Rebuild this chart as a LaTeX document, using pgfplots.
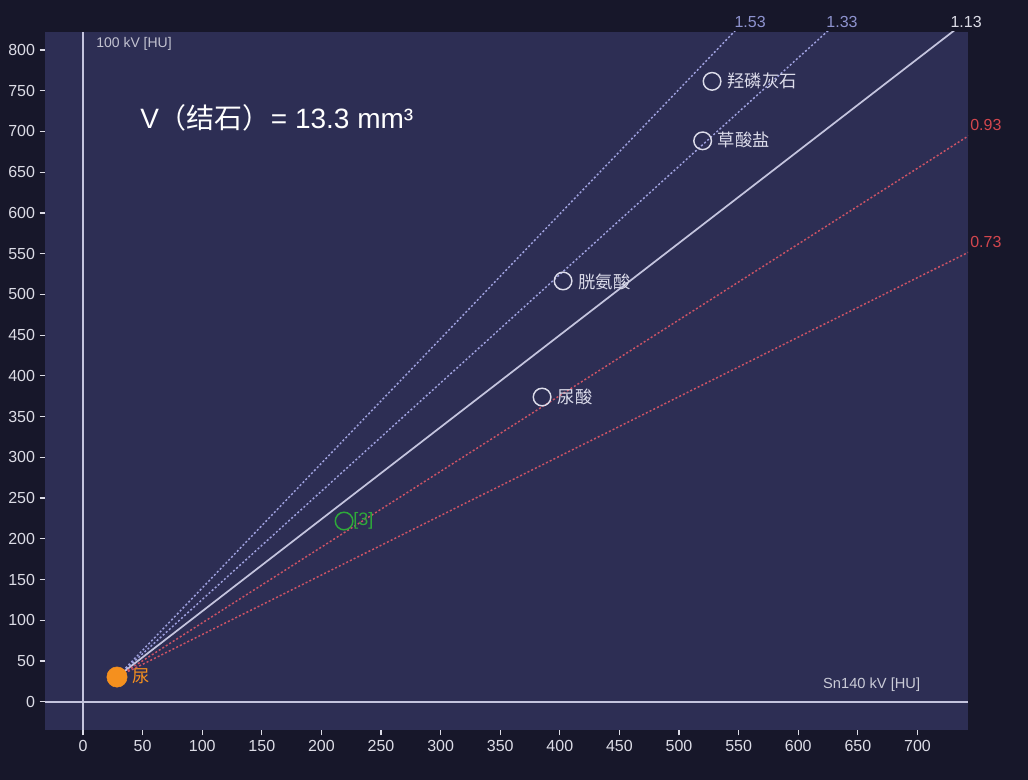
\documentclass[border=0pt]{standalone}
\usepackage{fontspec}
\setmainfont{Liberation Sans}
\newfontfamily\cjk{Noto Sans CJK SC}
\usepackage{pgfplots}
\pgfplotsset{compat=1.18}

\definecolor{outerbg}{HTML}{17172A}
\definecolor{plotbg}{HTML}{2D2E54}
\definecolor{axln}{HTML}{C4C4DE}
\definecolor{ticktxt}{HTML}{DCDCE6}
\definecolor{bluel}{HTML}{A0A2E0}
\definecolor{bluet}{HTML}{8E93CF}
\definecolor{redl}{HTML}{CC5466}
\definecolor{redt}{HTML}{D2464E}
\definecolor{ptc}{HTML}{DCDCEA}
\definecolor{grn}{HTML}{2EAA3A}
\definecolor{org}{HTML}{F5901E}

\begin{document}
\begin{tikzpicture}[x=1pt,y=1pt]
\fill[outerbg] (0,0) rectangle (771,585);
\begin{axis}[
  at={(33.75pt,37.5pt)}, anchor=south west,
  scale only axis, width=692.25pt, height=523.5pt,
  xmin=-31.9, xmax=742.4, ymin=-34.7, ymax=822.1,
  axis background/.style={fill=plotbg},
  axis line style={draw=none},
  xtick={0,50,...,700}, ytick={0,50,...,800},
  xtick pos=bottom, ytick pos=left,
  tick align=outside, major tick length=4pt,
  tick style={ticktxt, line width=0.9pt},
  ticklabel style={font=\fontsize{12}{14}\selectfont, text=ticktxt},
  /pgf/number format/assume math mode=true,
  clip mode=individual,
]
% zero lines
\draw[axln, line width=1.5pt] ({axis cs:0,0}|-{rel axis cs:0,0}) -- ({axis cs:0,0}|-{rel axis cs:0,1});
\draw[axln, line width=1.5pt] ({axis cs:0,0}-|{rel axis cs:0,0}) -- ({axis cs:0,0}-|{rel axis cs:1,0});

% ratio lines through the urine point
\addplot[bluel, line width=1.1pt, dash pattern=on 1.5pt off 1.6pt] coordinates {(28.5,30.3) (760,1149.5)};
\addplot[bluel, line width=1.1pt, dash pattern=on 1.5pt off 1.6pt] coordinates {(28.5,30.3) (760,1003.2)};
\addplot[axln, line width=1.3pt] coordinates {(28.5,30.3) (760,856.9)};
\addplot[redl, line width=1.1pt, dash pattern=on 1.5pt off 1.6pt] coordinates {(28.5,30.3) (760,710.6)};
\addplot[redl, line width=1.1pt, dash pattern=on 1.5pt off 1.6pt] coordinates {(28.5,30.3) (760,564.3)};

% stones
\addplot[only marks, mark=o, mark size=6.6pt, ptc, mark options={line width=1.1pt}] coordinates {
  (527.7,761.5) (519.8,688.5) (402.7,516.5) (385.1,374.0)};
\addplot[only marks, mark=o, mark size=6.6pt, grn, mark options={line width=1.1pt}] coordinates {(219.0,221.8)};
\addplot[only marks, mark=*, mark size=7.6pt, org, mark options={draw=org}] coordinates {(28.5,30.3)};

% point labels
\node[anchor=west, text=ptc, font=\cjk\fontsize{13}{15}\selectfont, inner sep=0pt] at (axis cs:540.3,762) {羟磷灰石};
\node[anchor=west, text=ptc, font=\cjk\fontsize{13}{15}\selectfont, inner sep=0pt] at (axis cs:532.4,689) {草酸盐};
\node[anchor=west, text=ptc, font=\cjk\fontsize{13}{15}\selectfont, inner sep=0pt] at (axis cs:415.5,515.6) {胱氨酸};
\node[anchor=west, text=ptc, font=\cjk\fontsize{13}{15}\selectfont, inner sep=0pt] at (axis cs:398.2,374.4) {尿酸};
\node[anchor=west, text=grn, font=\fontsize{13.5}{15}\selectfont, inner sep=0pt] at (axis cs:226.5,221.8) {[3]};
\node[anchor=west, text=org, font=\cjk\fontsize{13}{15}\selectfont, inner sep=0pt] at (axis cs:41.6,30.7) {尿};

% ratio labels
\node[text=bluet, font=\fontsize{12}{14}\selectfont, inner sep=0pt] at (axis cs:559.6,834.4) {1.53};
\node[text=bluet, font=\fontsize{12}{14}\selectfont, inner sep=0pt] at (axis cs:636.7,834.4) {1.33};
\node[text=ticktxt, font=\fontsize{12}{14}\selectfont, inner sep=0pt] at (axis cs:740.8,834.4) {1.13};
\node[anchor=west, text=redt, font=\fontsize{12}{14}\selectfont, inner sep=0pt] at (axis cs:744.1,708) {0.93};
\node[anchor=west, text=redt, font=\fontsize{12}{14}\selectfont, inner sep=0pt] at (axis cs:744.1,564.3) {0.73};

% axis names and title
\node[anchor=west, text=ticktxt!85!plotbg, font=\fontsize{10.5}{12}\selectfont, inner sep=0pt] at (axis cs:10.9,807.4) {100 kV [HU]};
\node[anchor=east, text=ticktxt!90!plotbg, font=\fontsize{11}{13}\selectfont, inner sep=0pt] at (axis cs:702.5,20.5) {Sn140 kV [HU]};
\node[anchor=west, text=white, font=\fontsize{21}{24}\selectfont, inner sep=0pt] at (axis cs:47.8,716.6) {V{\cjk（结石）}= 13.3 mm³};
\end{axis}
\pgfresetboundingbox
\useasboundingbox (0,0) rectangle (771,585);
\end{tikzpicture}
\end{document}
